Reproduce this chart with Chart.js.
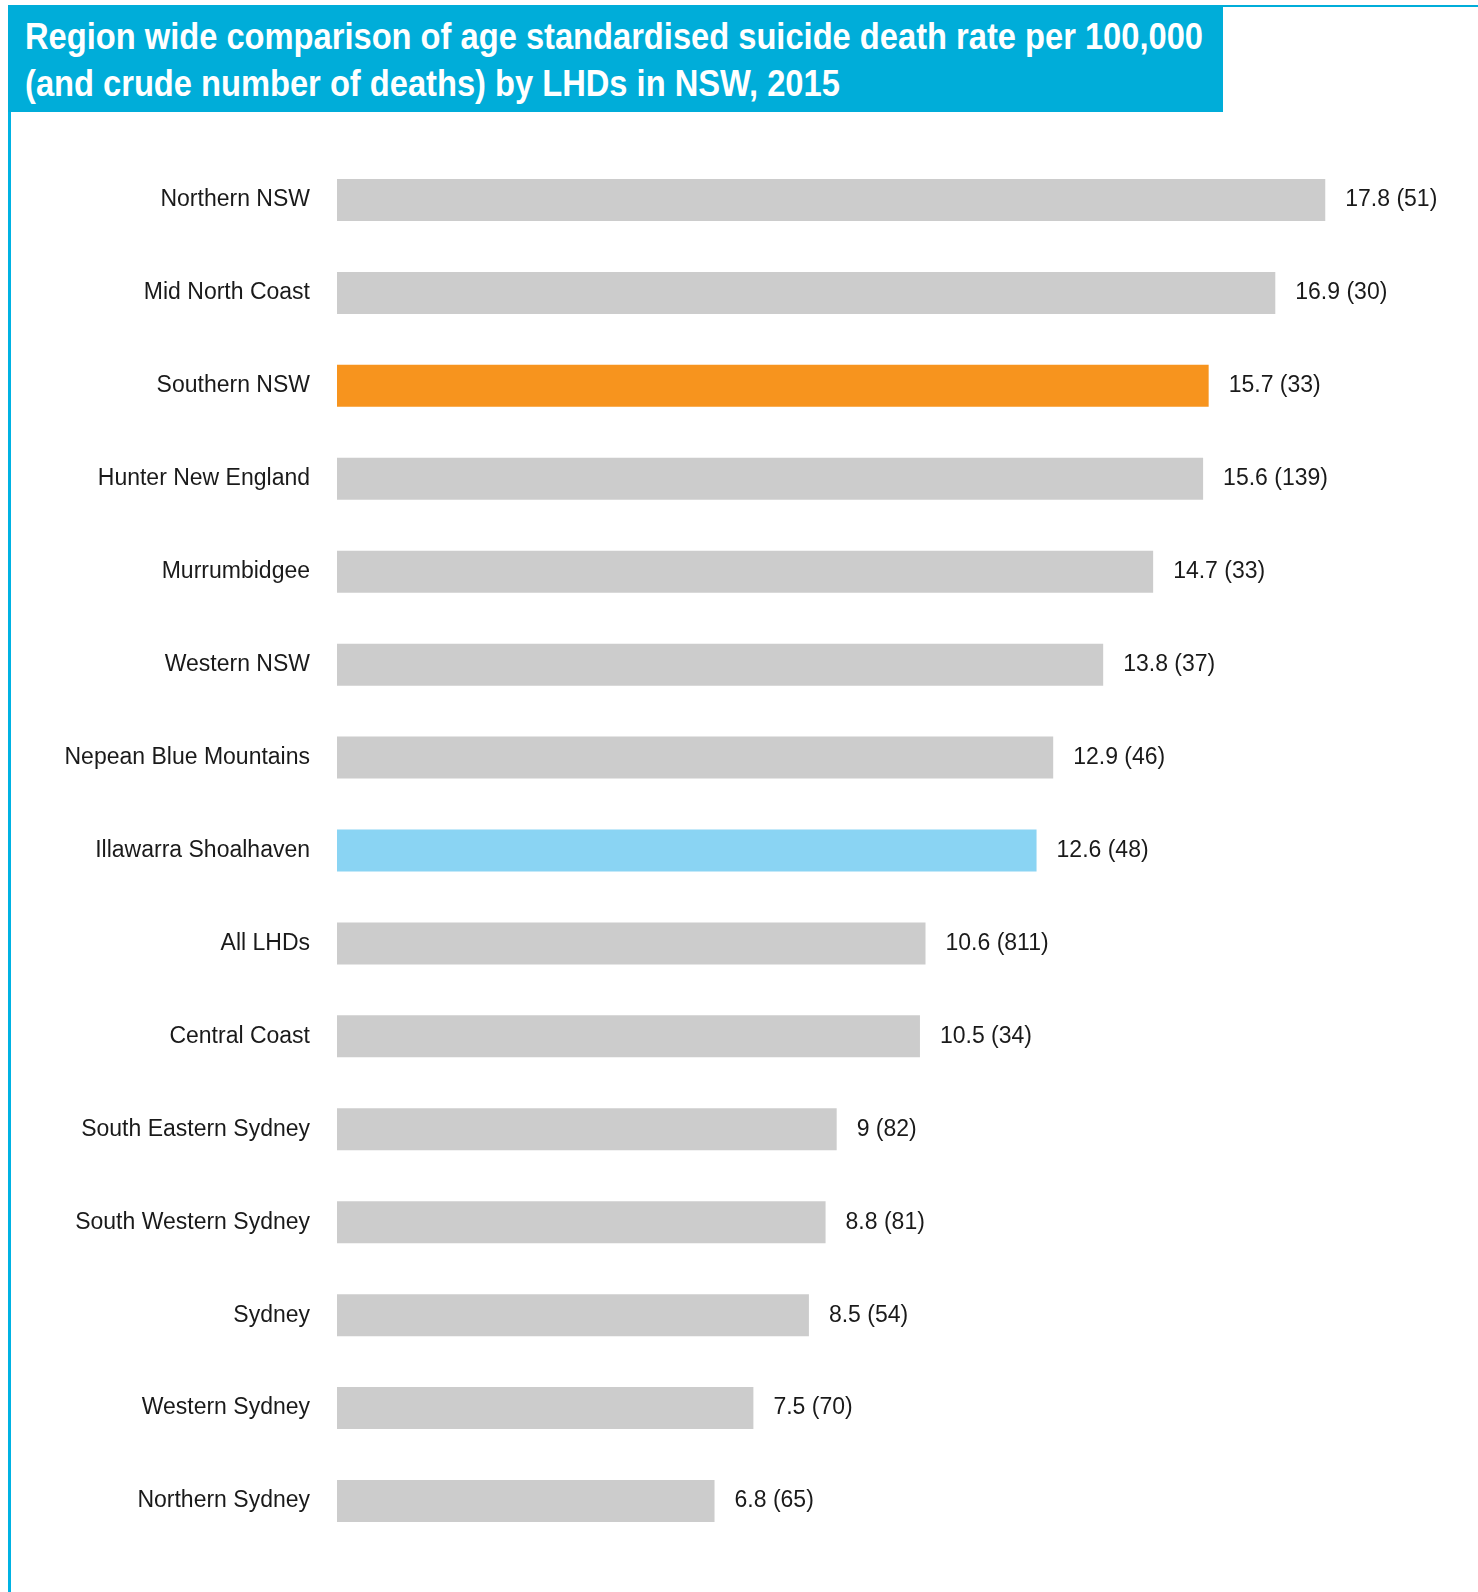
<!DOCTYPE html>
<html>
<head>
<meta charset="utf-8">
<script src="https://cdn.jsdelivr.net/npm/chart.js@4/dist/chart.umd.min.js"></script>
<style>
  body { margin: 0; background: #fff; }
  #wrap { position: relative; width: 1478px; height: 1592px; overflow: hidden; }
  #frame { position: absolute; left: 8px; top: 5px; right: 0; bottom: -5px;
           border-top: 2px solid #00ADD9; border-left: 3px solid #00B2E3; }
  #banner { position: absolute; left: 8px; top: 5px; width: 1215px; height: 107px;
            background: #00ADD9; color: #fff; box-sizing: border-box; padding: 8px 0 0 17px;
            font-family: "Liberation Sans", Arial, sans-serif;
            font-weight: bold; font-size: 37px; line-height: 47px; white-space: nowrap; }
  #banner span { display: inline-block; transform-origin: 0 50%; }
  canvas { position: absolute; left: 0; top: 0; }
</style>
</head>
<body>
<div id="wrap">
  <canvas id="bar-chart" width="1478" height="1592"></canvas>
  <div id="frame"></div>
  <div id="banner"><span id="t1">Region wide comparison of age standardised suicide death rate per 100,000</span><br><span id="t2">(and crude number of deaths) by LHDs in NSW, 2015</span></div>
</div>
<script>
var regions = ["Northern NSW", "Mid North Coast", "Southern NSW", "Hunter New England", "Murrumbidgee",
  "Western NSW", "Nepean Blue Mountains", "Illawarra Shoalhaven", "All LHDs", "Central Coast",
  "South Eastern Sydney", "South Western Sydney", "Sydney", "Western Sydney", "Northern Sydney"];
var rates = [17.8, 16.9, 15.7, 15.6, 14.7, 13.8, 12.9, 12.6, 10.6, 10.5, 9, 8.8, 8.5, 7.5, 6.8];
var deaths = [51, 30, 33, 139, 33, 37, 46, 48, 811, 34, 82, 81, 54, 70, 65];

// squeeze the title to look condensed, like the original
var t1 = document.getElementById('t1'), t2 = document.getElementById('t2');
var sx = 1178 / t1.getBoundingClientRect().width;
t1.style.transform = 'scaleX(' + sx + ')';
t2.style.transform = 'scaleX(' + sx + ')';

var colours = regions.map(function (r) {
  if (r == "Southern NSW") return "#F7941E";
  if (r == "Illawarra Shoalhaven") return "#8AD4F3";
  return "#CCCCCC";
});

var valueLabels = {
  id: 'valueLabels',
  afterDatasetsDraw: function (chart) {
    var ctx = chart.ctx;
    var meta = chart.getDatasetMeta(0);
    ctx.save();
    ctx.font = '23px "Liberation Sans", Arial, sans-serif';
    ctx.fillStyle = '#1a1a1a';
    ctx.textAlign = 'left';
    ctx.textBaseline = 'middle';
    meta.data.forEach(function (bar, i) {
      ctx.fillText(rates[i] + ' (' + deaths[i] + ')', bar.x + 20, bar.y);
    });
    ctx.restore();
  }
};

new Chart(document.getElementById("bar-chart"), {
  type: 'bar',
  data: {
    labels: regions,
    datasets: [{
      data: rates,
      backgroundColor: colours,
      barPercentage: 0.452,
      categoryPercentage: 1.0
    }]
  },
  plugins: [valueLabels],
  options: {
    indexAxis: 'y',
    responsive: false,
    animation: false,
    layout: { padding: { top: 153.5, bottom: 44.5, left: 0, right: 30.6 } },
    plugins: { legend: { display: false }, title: { display: false }, tooltip: { enabled: false } },
    scales: {
      x: { display: false, min: 0, max: 20 },
      y: {
        grid: { display: false, drawTicks: false },
        border: { display: false },
        ticks: {
          padding: 27,
          color: '#1a1a1a',
          font: { family: '"Liberation Sans", Arial, sans-serif', size: 23 }
        },
        afterFit: function (scale) { scale.width = 337; }
      }
    }
  }
});
</script>
</body>
</html>
